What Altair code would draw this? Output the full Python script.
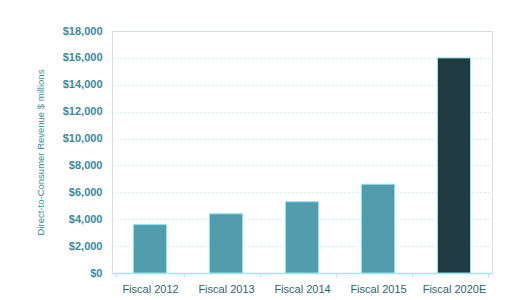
import altair as alt
import pandas as pd

categories = ["Fiscal 2012", "Fiscal 2013", "Fiscal 2014", "Fiscal 2015", "Fiscal 2020E"]
revenue = [3600, 4400, 5300, 6600, 16000]
kinds = ["actual", "actual", "actual", "actual", "estimate"]

df = pd.DataFrame({"year": categories, "revenue": revenue, "kind": kinds})

chart = alt.Chart(df).mark_bar(
    size=33, stroke="#8fe3f0", strokeWidth=1
).encode(
    x=alt.X("year:N", sort=categories, title=None,
            axis=alt.Axis(labelAngle=0, labelFontSize=11, labelColor="#2f6473",
                          labelFont="Liberation Sans", ticks=True, tickColor="#b5e8f0",
                          tickSize=4, tickBand="extent", domainColor="#a8e4ee",
                          domainWidth=1.5, labelPadding=6)),
    y=alt.Y("revenue:Q", scale=alt.Scale(domain=[0, 18000]),
            title="Direct-to-Consumer Revenue  $ millions",
            axis=alt.Axis(values=list(range(0, 18001, 2000)), format="$,.0f",
                          labelFontSize=11, labelFontWeight="bold", labelColor="#3a8a9a",
                          labelFont="Liberation Sans", ticks=False, domain=False,
                          labelPadding=10, grid=True, gridColor="#a6dfec",
                          gridDash=[1, 3], gridWidth=1,
                          titleFontSize=9.5, titleFontWeight="normal", titleColor="#3a8a9a",
                          titleFont="Liberation Sans", titlePadding=17)),
    color=alt.Color("kind:N", scale=alt.Scale(domain=["actual", "estimate"],
                                              range=["#519cad", "#1f3a40"]), legend=None),
).properties(
    width=380, height=242,
    autosize=alt.AutoSizeParams(type="none"),
    padding={"left": 104, "top": 23, "right": 29, "bottom": 27},
).configure_view(stroke=None).configure(background="white")

chart.save("out.html", embed_options={"renderer": "svg", "actions": False})
